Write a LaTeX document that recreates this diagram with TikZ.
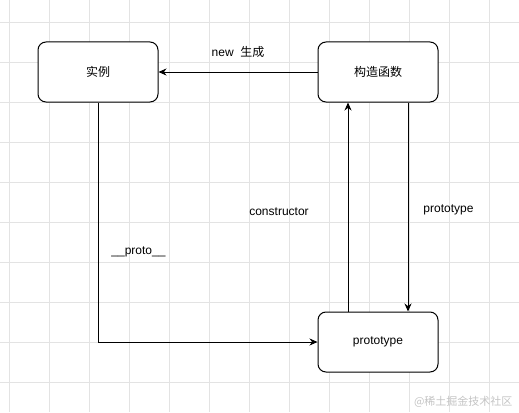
\documentclass[tikz,border=0pt]{standalone}
\usepackage{fontspec}
\setmainfont{Liberation Sans}
\newfontfamily\cjk{Noto Sans CJK SC}
\usetikzlibrary{arrows.meta,positioning}
\definecolor{gridgray}{HTML}{E3E3E3}
\definecolor{markgray}{HTML}{C4C4C4}
\tikzset{
  every picture/.style={draw=black, text=black},
  gridline/.style={draw=gridgray, line width=0.8pt},
  objbox/.style={draw, rounded corners=8pt, line width=1pt, fill=white,
    minimum width=120pt, minimum height=60pt, font=\fontsize{12pt}{14pt}\selectfont},
  flow/.style={line width=1pt, -{Stealth[length=8pt,width=7pt]}},
  tag/.style={font=\fontsize{12pt}{14pt}\selectfont, inner sep=1pt},
}

\begin{document}
\begin{tikzpicture}[x=1pt, y=-1pt]
\useasboundingbox (0,0) rectangle (519,412);

%% Background grid
\foreach \gx in {9,49,...,489}
  \draw[gridline] (\gx,0) -- (\gx,412);
\foreach \gy in {22.7,62.7,...,402.7}
  \draw[gridline] (0,\gy) -- (519,\gy);

%% Objects
\node[objbox] (inst)  at (98,72)   {\cjk 实例};
\node[objbox] (ctor)  at (378,72)  {\cjk 构造函数};
\node[objbox] (proto) at (378,342) {prototype};

%% Links
\draw[flow] (ctor.west) -- (inst.east);
\draw[flow] (inst.south) |- (proto.west);
\draw[flow] ([xshift=-30pt]proto.north) -- ([xshift=-30pt]ctor.south);
\draw[flow] ([xshift=30pt]ctor.south) -- ([xshift=30pt]proto.north);

%% Labels
\node[tag] (newlbl)   at (238,52)  {new\ \ {\cjk 生成}};
\node[tag] (protolbl) at (138.5,252) {\_\_proto\_\_};
\node[tag] (ctorlbl)  at (279,212) {constructor};
\node[tag] (ptlbl)    at (448.5,210) {prototype};

%% Watermark
\node[font=\cjk\fontsize{11pt}{13pt}\selectfont, text=markgray, anchor=east]
  (mark) at (516,402) {@稀土掘金技术社区};

\end{tikzpicture}
\end{document}
